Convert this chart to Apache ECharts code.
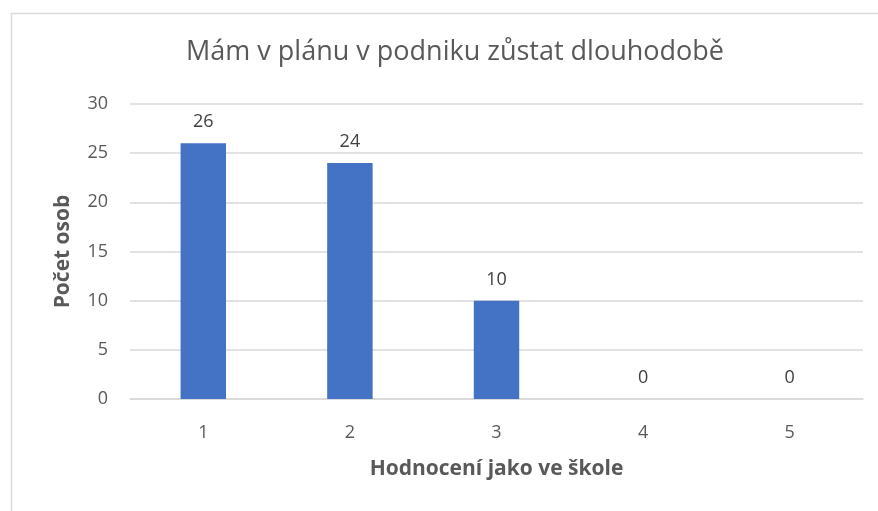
<!DOCTYPE html>
<html>
<head>
<meta charset="utf-8">
<script src="https://cdn.jsdelivr.net/npm/echarts@6/dist/echarts.min.js"></script>
<style>
  html, body { margin: 0; padding: 0; background: #fff; }
  #chart { width: 878px; height: 511px; }
</style>
</head>
<body>
<div id="chart"></div>
<script>
const categories = ['1', '2', '3', '4', '5'];
const values = [26, 24, 10, 0, 0];
const yTicks = { min: 0, max: 30, interval: 5 };

const chart = echarts.init(document.getElementById('chart'));
const font = '"Open Sans", "Liberation Sans", sans-serif';
const option = {
  animation: false,
  textStyle: { fontFamily: font },
  // light frame around the chart area (right and bottom edges fall outside the window)
  graphic: [{
    type: 'rect',
    left: 9, top: 11,
    shape: { width: 900, height: 600 },
    style: { fill: 'none', stroke: '#d9d9d9', lineWidth: 1.5 },
    silent: true
  }],
  title: {
    text: 'Mám v plánu v podniku zůstat dlouhodobě',
    left: 450, top: 34, textAlign: 'center',
    textStyle: { fontFamily: font, fontSize: 27, fontWeight: 'normal', color: '#595959' }
  },
  grid: { left: 130, right: 15, top: 104, bottom: 112 },
  xAxis: {
    type: 'category',
    data: categories,
    name: 'Hodnocení jako ve škole',
    nameLocation: 'middle',
    nameGap: 60,
    nameTextStyle: { fontFamily: font, fontSize: 21, fontWeight: 'bold', color: '#595959' },
    axisLine: { lineStyle: { color: '#d9d9d9', width: 1.5 } },
    axisTick: { show: false },
    axisLabel: { fontFamily: font, fontSize: 18, color: '#595959', margin: 25 }
  },
  yAxis: {
    type: 'value',
    min: yTicks.min, max: yTicks.max, interval: yTicks.interval,
    name: 'Počet osob',
    nameLocation: 'middle',
    nameGap: 56,
    nameTextStyle: { fontFamily: font, fontSize: 21, fontWeight: 'bold', color: '#595959' },
    axisLine: { show: false },
    axisTick: { show: false },
    axisLabel: { fontFamily: font, fontSize: 18, color: '#595959', margin: 22 },
    splitLine: { lineStyle: { color: '#d9d9d9', width: 1.5 } }
  },
  series: [{
    type: 'bar',
    data: values,
    barWidth: '31%',
    itemStyle: { color: '#4472c4' },
    label: {
      show: true, position: 'top', distance: 12,
      fontFamily: font, fontSize: 18, color: '#404040'
    }
  }]
};
chart.setOption(option);
</script>
</body>
</html>
